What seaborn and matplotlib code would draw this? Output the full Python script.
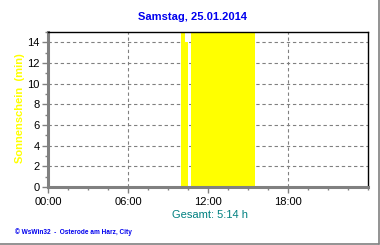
import matplotlib
matplotlib.use("Agg")
import matplotlib.pyplot as plt
from matplotlib.lines import Line2D
from matplotlib.ticker import MultipleLocator
import pandas as pd
import seaborn as sns

# ---- data (15-minute intervals, sunshine minutes) ----
interval_start = ["10:00", "10:15", "10:45", "11:00", "11:15", "11:30", "11:45",
                  "12:00", "12:15", "12:30", "12:45", "13:00", "13:15", "13:30",
                  "13:45", "14:00", "14:15", "14:30", "14:45", "15:00", "15:15"]
sun_minutes = [15, 14, 15, 15, 15, 15, 15, 15, 15, 15, 15, 15, 15, 15, 15,
               15, 15, 15, 15, 15, 15]
x_tick_labels = ["00:00", "06:00", "12:00", "18:00"]
title = "Samstag, 25.01.2014"
y_label = "Sonnenschein  (min)"
total_text = "Gesamt: 5:14 h"
footer = "© WsWin32  -  Osterode am Harz, City"

hours = [int(t.split(":")[0]) + int(t.split(":")[1]) / 60 for t in interval_start]
df = pd.DataFrame({"hour": hours, "minutes": sun_minutes})

sns.set_style("white")
plt.rcParams["font.family"] = ["Liberation Sans", "DejaVu Sans"]

fig = plt.figure(figsize=(3.8, 2.45), dpi=100)
W, H = 380, 245
ax = fig.add_axes([48 / W, 1 - 187 / H, 320 / W, 155 / H])

sns.histplot(data=df, x="hour", weights="minutes", binwidth=0.25, binrange=(0, 24),
             color="#FFFF00", alpha=1, linewidth=0, ax=ax, zorder=3)

ax.set_xlim(0, 24)
ax.set_ylim(0, 15)
ax.set_xticks([0, 6, 12, 18])
ax.set_xticklabels(x_tick_labels)
ax.xaxis.set_minor_locator(MultipleLocator(1.5))
ax.set_yticks(range(0, 15, 2))
ax.yaxis.set_minor_locator(MultipleLocator(1))

ax.grid(True, which="major", color="#808080", linestyle=(0, (3, 2.5)),
        linewidth=0.8, zorder=1)
ax.set_axisbelow(True)

for s in ("top", "right"):
    ax.spines[s].set_color("black")
    ax.spines[s].set_linewidth(1.0)
    ax.spines[s].set_zorder(4)
for s in ("left", "bottom"):
    ax.spines[s].set_color("#808080")
    ax.spines[s].set_linewidth(2.2)
    ax.spines[s].set_zorder(4)

ax.tick_params(axis="both", which="major", direction="out", length=4, width=1,
               color="#808080", labelsize=8, labelcolor="black", pad=2,
               bottom=True, left=True)
ax.tick_params(axis="both", which="minor", direction="out", length=2.5, width=1,
               color="#808080", bottom=True, left=True)
ax.tick_params(axis="x", which="major", pad=3)

ax.set_xlabel("")
ax.set_ylabel("")
fig.text(20 / W, 1 - 108 / H, y_label, rotation=90, ha="center", va="center",
         color="#FFFF00", fontsize=8, fontweight="bold")
fig.text(192 / W, 1 - 17 / H, title, ha="center", va="center",
         color="#0000EE", fontsize=8, fontweight="bold")
fig.text(209.5 / W, 1 - 215 / H, total_text, ha="center", va="center",
         color="#008080", fontsize=8)
fig.text(15 / W, 1 - 232 / H, footer, ha="left", va="center",
         color="#0000EE", fontsize=4.7, fontweight="bold")

# outer frame (right and bottom)
fig.add_artist(Line2D([378.5 / W, 378.5 / W], [1.5 / H, 1], transform=fig.transFigure,
                      color="#808080", linewidth=1.2))
fig.add_artist(Line2D([0, 378.5 / W], [1.5 / H, 1.5 / H], transform=fig.transFigure,
                      color="#808080", linewidth=1.2))

fig.savefig("out.png", dpi=100, facecolor="white")
